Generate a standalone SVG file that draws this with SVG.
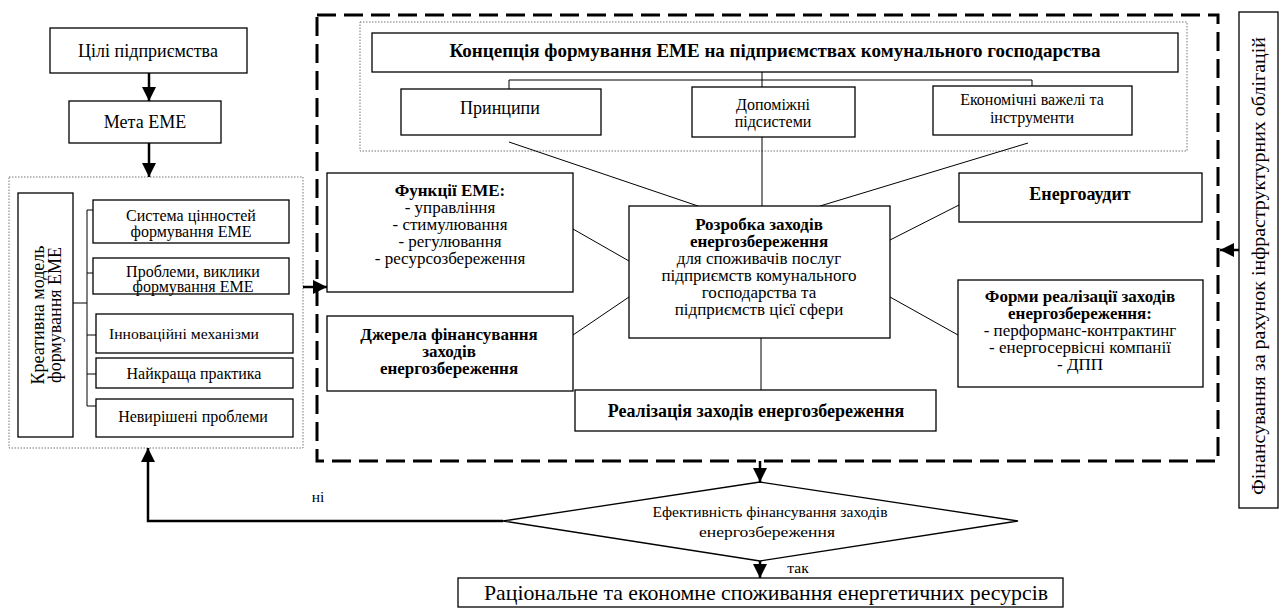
<svg xmlns="http://www.w3.org/2000/svg" width="1281" height="609" viewBox="0 0 1281 609" font-family="'Liberation Serif', 'Times New Roman', serif">
<style>
.box{fill:#fff;stroke:#000;stroke-width:1.3}
.dot{fill:none;stroke:#777;stroke-width:1;stroke-dasharray:1.5 1.5}
.dash{fill:none;stroke:#000;stroke-width:3;stroke-dasharray:19 8}
.ln{stroke:#000;stroke-width:1;fill:none}
.arr{stroke:#000;stroke-width:2.5;fill:none;marker-end:url(#ah)}
text{font-family:'Liberation Serif','Times New Roman',serif;fill:#000;text-anchor:middle}
.s21{font-size:21px}
.s19{font-size:19px}
.s18{font-size:18px}
.s17{font-size:17px}
.s16{font-size:16px}
.s15{font-size:15.5px}
.s13{font-size:15.5px}
.b{font-weight:bold}
</style>
<defs>
<marker id="ah" viewBox="0 0 14 14" refX="14" refY="7" markerWidth="14" markerHeight="14" markerUnits="userSpaceOnUse" orient="auto">
<path d="M0,0 L14,7 L0,14 z" fill="#000"/>
</marker>
</defs>
<rect width="1281" height="609" fill="#fff"/>

<rect class="dash" x="317" y="15" width="901" height="446"/>
<rect class="dot" x="360" y="22" width="827" height="129"/>
<rect class="dot" x="9" y="177" width="294" height="271"/>

<g id="connectors">
<line class="arr" x1="149" y1="73" x2="149" y2="101"/>
<line class="arr" x1="149" y1="143" x2="149" y2="177"/>
<line class="arr" x1="303" y1="287" x2="327" y2="287"/>
<line class="arr" x1="1239" y1="250" x2="1220" y2="250"/>
<line class="arr" x1="760" y1="461" x2="760" y2="482"/>
<line class="arr" x1="760" y1="561" x2="760" y2="578"/>
<polyline class="arr" points="503,521 148,521 148,448"/>
<polyline class="ln" points="73,303 87,303"/>
<line class="ln" x1="87" y1="210" x2="87" y2="406"/>
<line class="ln" x1="87" y1="210" x2="93" y2="210"/>
<line class="ln" x1="87" y1="273" x2="93" y2="273"/>
<line class="ln" x1="87" y1="335" x2="96" y2="335"/>
<line class="ln" x1="87" y1="374" x2="96" y2="374"/>
<line class="ln" x1="87" y1="406" x2="96" y2="406"/>
<line class="ln" x1="762" y1="72" x2="762" y2="87"/>
<polyline class="ln" points="509,89 509,80 1032,80 1032,86"/>
<line class="ln" x1="509" y1="142" x2="698" y2="206"/>
<line class="ln" x1="762" y1="137" x2="762" y2="206"/>
<line class="ln" x1="1028" y1="143" x2="820" y2="206"/>
<line class="ln" x1="573" y1="229" x2="629" y2="261"/>
<line class="ln" x1="573" y1="335" x2="629" y2="297"/>
<line class="ln" x1="890" y1="240" x2="959" y2="205"/>
<line class="ln" x1="890" y1="297" x2="958" y2="335"/>
<line class="ln" x1="761" y1="338" x2="761" y2="390"/>
</g>

<g id="n-cili"><rect class="box" x="50" y="28" width="197" height="45"/><text class="s18" x="148" y="57">Цілі підприємства</text></g>
<g id="n-meta"><rect class="box" x="69" y="101" width="152" height="42"/><text class="s18" x="145" y="128">Мета ЕМЕ</text></g>

<g id="n-kreat"><rect class="box" x="18" y="193" width="55" height="244"/>
<text class="s18" transform="translate(45,315) rotate(-90)"><tspan x="0" y="-1">Креативна модель</tspan><tspan x="0" y="16">формування ЕМЕ</tspan></text></g>
<g id="n-sys"><rect class="box" x="93" y="200" width="196" height="43"/><text class="s16" x="191" y="221">Система цінностей</text><text class="s16" x="191" y="237">формування ЕМЕ</text></g>
<g id="n-probl"><rect class="box" x="93" y="258" width="196" height="36"/><text class="s16" x="193" y="277">Проблеми, виклики</text><text class="s16" x="193" y="292">формування ЕМЕ</text></g>
<g id="n-innov"><rect class="box" x="96" y="314" width="197" height="39"/><text class="s15" x="184" y="339" textLength="150" lengthAdjust="spacingAndGlyphs">Інноваційні механізми</text></g>
<g id="n-best"><rect class="box" x="96" y="358" width="197" height="30"/><text class="s16" x="194" y="379">Найкраща практика</text></g>
<g id="n-unres"><rect class="box" x="96" y="399" width="197" height="38"/><text class="s16" x="193" y="422">Невирішені проблеми</text></g>

<g id="n-konc"><rect class="box" x="372" y="33" width="806" height="39"/><text class="s19 b" x="775" y="57">Концепція формування ЕМЕ на підприємствах комунального господарства</text></g>
<g id="n-princ"><rect class="box" x="401" y="89" width="200" height="46"/><text class="s18" x="500" y="114">Принципи</text></g>
<g id="n-dopom"><rect class="box" x="692" y="87" width="163" height="50"/><text class="s16" x="773" y="110">Допоміжні</text><text class="s16" x="773" y="127">підсистеми</text></g>
<g id="n-econ"><rect class="box" x="933" y="86" width="199" height="49"/><text class="s16" x="1032" y="105">Економічні важелі та</text><text class="s16" x="1032" y="123">інструменти</text></g>

<g id="n-func"><rect class="box" x="327" y="173" width="246" height="119"/>
<text class="s17" x="450"><tspan class="b" x="450" y="196">Функції ЕМЕ:</tspan><tspan x="450" y="213">- управління</tspan><tspan x="450" y="230">- стимулювання</tspan><tspan x="450" y="247">- регулювання</tspan><tspan x="450" y="264">- ресурсозбереження</tspan></text></g>
<g id="n-dzher"><rect class="box" x="327" y="316" width="246" height="75"/>
<text class="s17 b" x="449"><tspan x="449" y="340">Джерела фінансування</tspan><tspan x="449" y="357">заходів</tspan><tspan x="449" y="374">енергозбереження</tspan></text></g>
<g id="n-rozr"><rect class="box" x="629" y="206" width="261" height="132"/>
<text class="s17" x="759"><tspan class="b" x="759" y="230">Розробка заходів</tspan><tspan class="b" x="759" y="247">енергозбереження</tspan><tspan x="759" y="264">для споживачів послуг</tspan><tspan x="759" y="281">підприємств комунального</tspan><tspan x="759" y="298">господарства та</tspan><tspan x="759" y="315">підприємств цієї сфери</tspan></text></g>
<g id="n-real"><rect class="box" x="575" y="390" width="361" height="41"/><text class="s18 b" x="756" y="417">Реалізація заходів енергозбереження</text></g>
<g id="n-audit"><rect class="box" x="959" y="173" width="243" height="49"/><text class="s18 b" x="1080" y="200">Енергоаудит</text></g>
<g id="n-formy"><rect class="box" x="958" y="280" width="245" height="107"/>
<text class="s17" x="1080"><tspan class="b" x="1080" y="302">Форми реалізації заходів</tspan><tspan class="b" x="1080" y="319">енергозбереження:</tspan><tspan x="1080" y="336">- перформанс-контрактинг</tspan><tspan x="1080" y="353">- енергосервісні компанії</tspan><tspan x="1080" y="370">- ДПП</tspan></text></g>

<g id="n-fin"><rect class="box" x="1239" y="12" width="39" height="496"/>
<text class="s19" transform="translate(1265,266) rotate(-90)" x="0" y="0" textLength="458" lengthAdjust="spacingAndGlyphs">Фінансування за рахунок інфраструктурних облігацій</text></g>

<g id="n-eff"><polygon class="box" points="503,521 760,482 1018,521 760,561"/>
<text class="s13" x="770" y="517" textLength="235" lengthAdjust="spacingAndGlyphs">Ефективність фінансування заходів</text><text class="s13" x="767" y="537" textLength="136" lengthAdjust="spacingAndGlyphs">енергозбереження</text></g>
<text class="s15" x="318" y="502">ні</text>
<text class="s15" x="798" y="573">так</text>

<g id="n-rac"><rect class="box" x="458" y="578" width="605" height="29"/><text class="s21" x="766" y="600" textLength="564" lengthAdjust="spacingAndGlyphs">Раціональне та економне споживання енергетичних ресурсів</text></g>
</svg>
